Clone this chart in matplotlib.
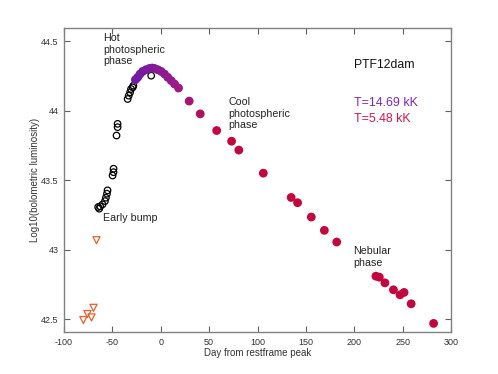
import matplotlib
matplotlib.use("Agg")
import matplotlib.pyplot as plt
import numpy as np
from matplotlib.colors import LinearSegmentedColormap, Normalize

plt.rcParams['font.family'] = ['Liberation Sans', 'DejaVu Sans']
plt.rcParams['axes.unicode_minus'] = False

# Filled points (coloured by phase)
phot_days = [-26.2, -23.8, -21.4, -18.6, -15.2, -11.7, -8.9, -6.5, -3.1, 0.4, 3.9, 7.3,
             10.8, 14.3, 18.4, 29.4, 40.8, 57.8, 73.2, 80.7, 106.0, 134.8, 141.4, 155.6,
             169.1, 181.9, 222.4, 225.9, 231.7, 240.5, 247.3, 251.5, 258.8, 282.0]
phot_lum = [44.224, 44.241, 44.265, 44.284, 44.296, 44.305, 44.308, 44.305, 44.296, 44.284,
            44.265, 44.241, 44.217, 44.193, 44.164, 44.070, 43.978, 43.858, 43.781, 43.717,
            43.551, 43.376, 43.338, 43.235, 43.139, 43.055, 42.809, 42.802, 42.761, 42.711,
            42.675, 42.692, 42.610, 42.469]

# Open circles (early data)
open_days = [-64.7, -63.6, -62.6, -60.2, -57.7, -56.7, -55.6, -55.0, -49.8, -48.8, -48.8,
             -45.7, -44.6, -44.6, -34.2, -33.1, -31.7, -30.7, -29.0, -28.3, -9.9]
open_lum = [43.307, 43.295, 43.312, 43.326, 43.350, 43.374, 43.403, 43.427, 43.534, 43.558,
            43.583, 43.822, 43.882, 43.906, 44.085, 44.109, 44.133, 44.157, 44.169, 44.181,
            44.253]

# Triangles (early bump)
tri_days = [-66.4, -69.5, -71.6, -75.8, -80.0]
tri_lum = [43.068, 42.581, 42.512, 42.536, 42.493]

hot_color = '#6f1aa6'
cool_color = '#c4063f'
cmap = LinearSegmentedColormap.from_list('phase', [hot_color, '#9a1a8a', cool_color])
norm = Normalize(vmin=-28, vmax=60, clip=True)

fig = plt.figure(figsize=(4.98, 3.74), dpi=100)
ax = fig.add_axes([64/498, 1-332/374, (451-64)/498, (332-27.5)/374])

ax.scatter(phot_days, phot_lum, s=40, c=cmap(norm(np.array(phot_days))), edgecolors='none', zorder=3)
ax.scatter(open_days, open_lum, s=22, facecolors='none', edgecolors='black', linewidths=0.9, zorder=2)
ax.scatter(tri_days, tri_lum, s=26, marker='v', facecolors='none', edgecolors='#e8602c', linewidths=0.9, zorder=2)

ax.set_xlim(-100, 300)
ax.set_ylim(42.407, 44.6)
ax.set_xticks([-100, -50, 0, 50, 100, 150, 200, 250, 300])
ax.set_yticks([42.5, 43, 43.5, 44, 44.5])
ax.set_yticklabels(['42.5', '43', '43.5', '44', '44.5'])

for s in ax.spines.values():
    s.set_color('#808080')
    s.set_linewidth(1.0)
ax.tick_params(direction='in', length=4, width=0.8, color='#606060', top=True, right=True,
               labelsize=6.5, labelcolor='#333333', pad=4)

ax.set_xlabel('Day from restframe peak', fontsize=7, color='#333333', labelpad=1)
ax.set_ylabel('Log10(bolometric luminosity)', fontsize=7, color='#333333', labelpad=1)

tk = dict(fontsize=7.7, color='#222222', ha='left', va='top', linespacing=1.2)
ax.text(-59.5, 44.56, 'Hot\nphotospheric\nphase', **tk)
ax.text(-59.2, 43.267, 'Early bump', **tk)
ax.text(70.1, 44.10, 'Cool\nphotospheric\nphase', **tk)
ax.text(199.2, 43.027, 'Nebular\nphase', **tk)
ax.text(199.5, 44.37, 'PTF12dam', fontsize=8.8, color='#111111', ha='left', va='top')
ax.text(199.5, 44.10, 'T=14.69 kK', fontsize=8.9, color='#7d28b4', ha='left', va='top')
ax.text(199.5, 43.985, 'T=5.48 kK', fontsize=8.9, color='#d4164c', ha='left', va='top')

fig.savefig('out.png', dpi=100)
